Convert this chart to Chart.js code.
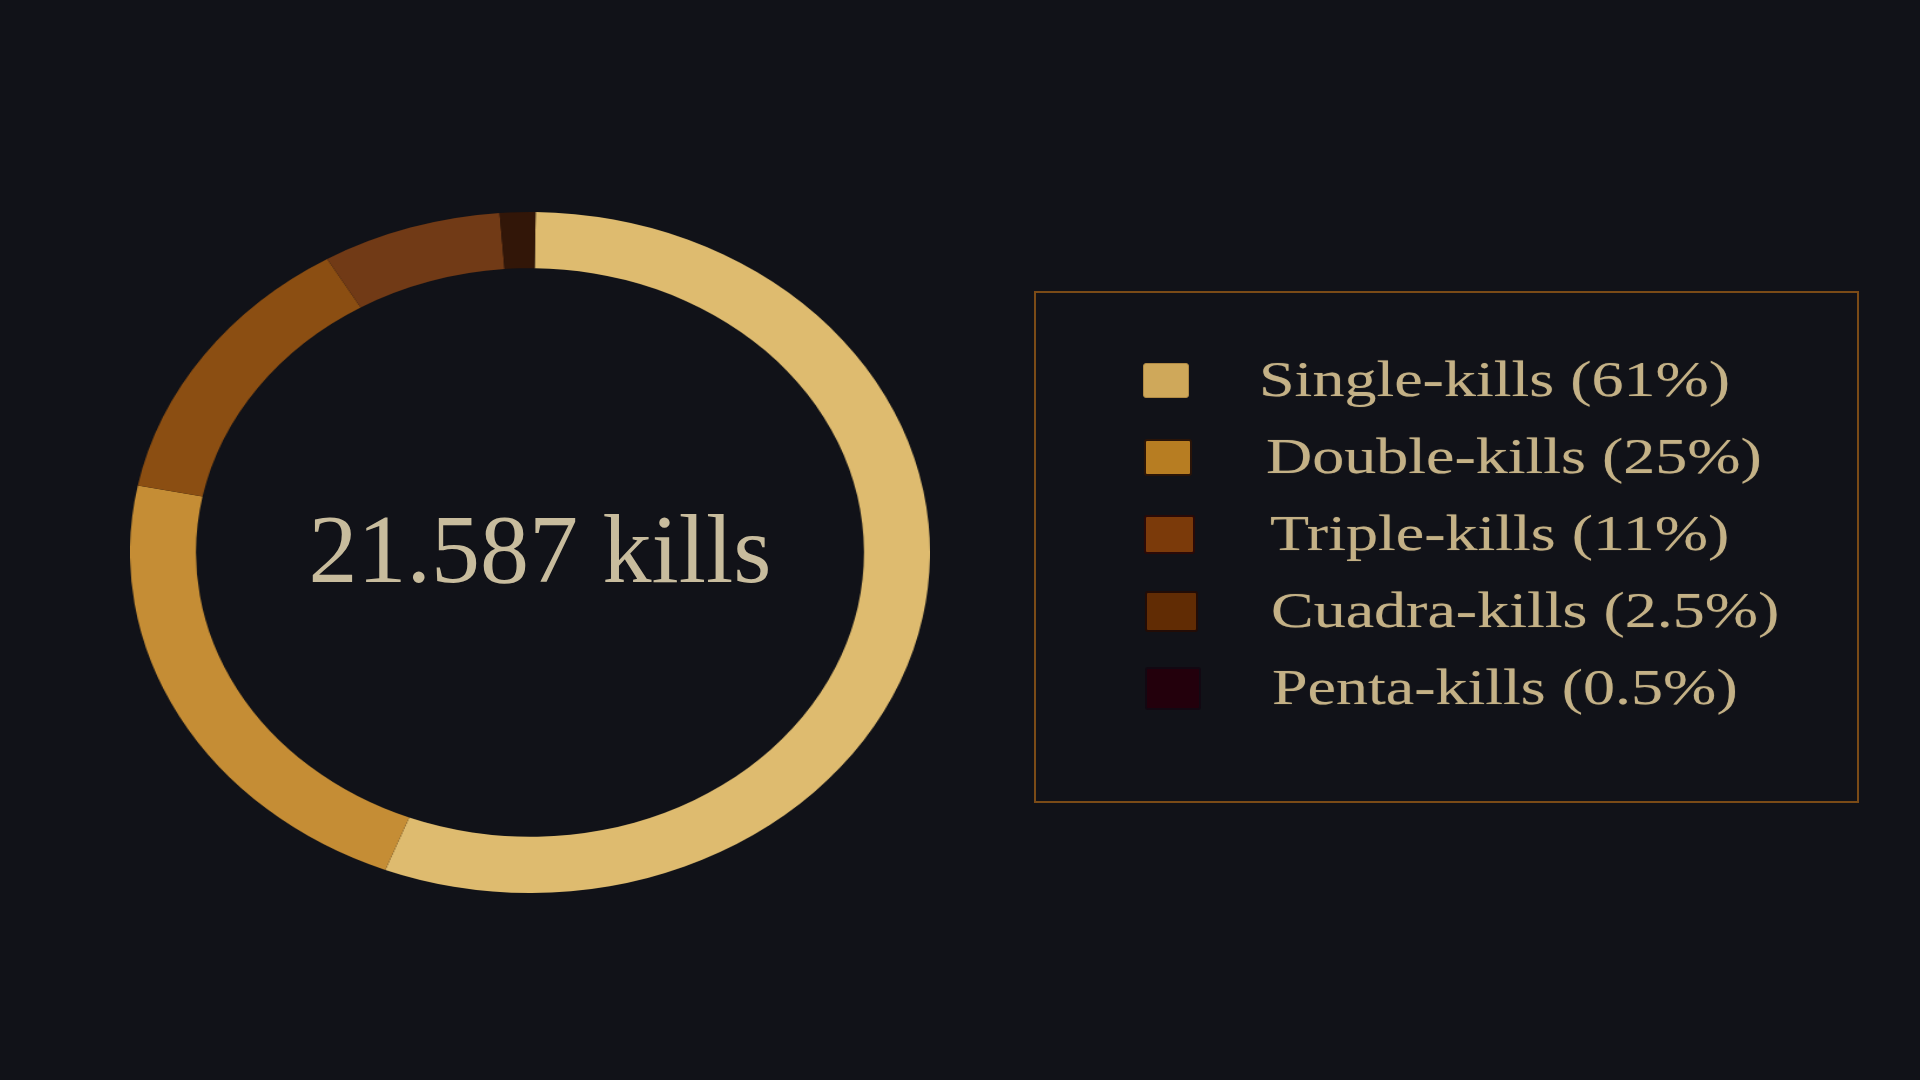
<!DOCTYPE html>
<html>
<head>
<meta charset="utf-8">
<script src="https://cdn.jsdelivr.net/npm/chart.js@4.4.1/dist/chart.umd.min.js"></script>
<style>
  html, body { margin: 0; padding: 0; background: #111218; width: 1920px; height: 1080px; overflow: hidden; }
  #stage { position: relative; width: 1920px; height: 1080px; }
  #ringWrap { position: absolute; left: 130px; top: 212px; width: 681px; height: 681px;
              transform: scaleX(1.1747); transform-origin: 0 0; }
  #center { position: absolute; left: 140px; top: 500px; width: 800px; text-align: center;
            font-family: "Liberation Serif", serif; font-size: 98px; line-height: 98px; color: #C8BC9D; white-space: nowrap; }
  #legendBox { position: absolute; left: 1034px; top: 291px; width: 821px; height: 508px;
               border: 2px solid #7B4B17; }
  .sw { position: absolute; border-radius: 3px; box-sizing: border-box; }
  .lt { position: absolute; font-family: "Liberation Serif", serif; font-size: 50px; line-height: 50px;
        color: #C4B186; white-space: nowrap; transform-origin: 0 0; transform: scaleX(1.28);
        text-shadow: 0 0 1px rgba(196,177,134,0.5); }
</style>
</head>
<body>
<div id="stage">
  <div id="ringWrap"><canvas id="c"></canvas></div>
  <div id="center"></div>
  <div id="legendBox"></div>
</div>
<script>
// ---- data ----
const categories = ['Single-kills', 'Double-kills', 'Triple-kills', 'Cuadra-kills', 'Penta-kills'];
const killCounts = [12017, 4805, 2890, 1565, 310];
const legendPercents = ['61%', '25%', '11%', '2.5%', '0.5%']; // as printed in the legend
const totalLabel = '21.587 kills';

// ---- styles ----
const ringColors = ['#DEBB6F', '#C58D35', '#8B4E12', '#713A16', '#321608'];
const legendColors = ['#CFA85A', '#B77D22', '#7B3A0A', '#612C04', '#23000C'];
const legendBorders = ['#B08A45', '#2A1408', '#2A0A08', '#220C06', '#120812'];

new Chart(document.getElementById('c'), {
  type: 'doughnut',
  data: {
    labels: categories,
    datasets: [{
      data: killCounts,
      backgroundColor: ringColors,
      borderWidth: 0,
      hoverOffset: 0,
      offset: 0
    }]
  },
  options: {
    responsive: true,
    maintainAspectRatio: false,
    animation: false,
    cutout: '83.5%',
    rotation: 0.8,
    layout: { padding: 0 },
    plugins: { legend: { display: false }, tooltip: { enabled: false } }
  }
});

document.getElementById('center').textContent = totalLabel;

// ---- legend (HTML, built from the arrays) ----
const stage = document.getElementById('stage');
const textLeft = [1259, 1266, 1270, 1271, 1272];
categories.forEach((cat, i) => {
  const w = 46 + i * 2.6, h = 35 + i * 2;
  const cx = 1166 + i * 1.8, cy = 380 + i * 77.2;
  const sw = document.createElement('div');
  sw.className = 'sw';
  sw.style.left = (cx - w / 2) + 'px';
  sw.style.top = (cy - h / 2) + 'px';
  sw.style.width = w + 'px';
  sw.style.height = h + 'px';
  sw.style.background = legendColors[i];
  sw.style.border = (i === 0 ? 1 : 2) + 'px solid ' + legendBorders[i];
  stage.appendChild(sw);

  const t = document.createElement('div');
  t.className = 'lt';
  t.textContent = cat + ' (' + legendPercents[i] + ')';
  const baseline = 395.5 + i * 77;
  t.style.left = textLeft[i] + 'px';
  t.style.top = (baseline - 42) + 'px';
  stage.appendChild(t);
});
</script>
</body>
</html>
